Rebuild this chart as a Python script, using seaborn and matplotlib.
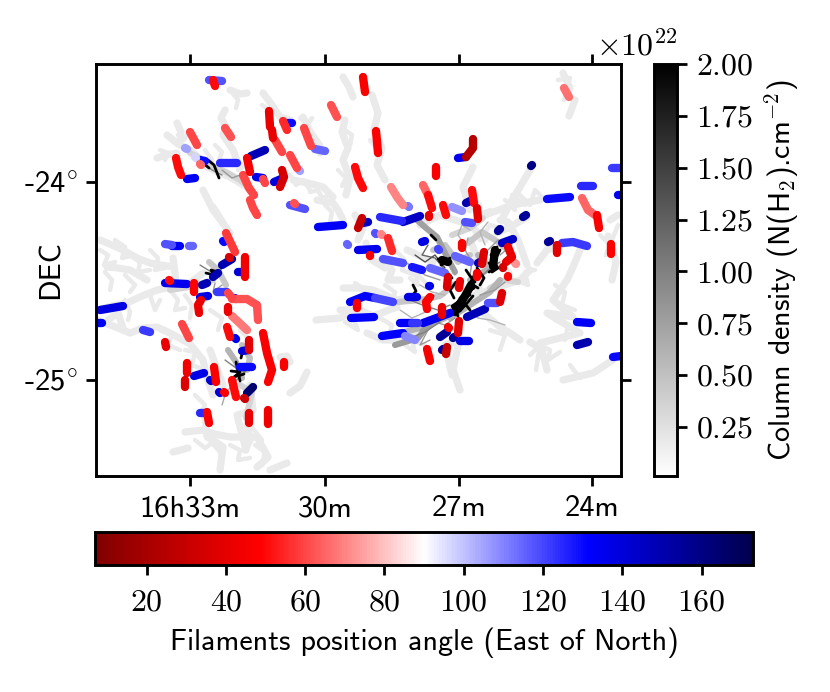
import pandas as pd
import seaborn as sns
import matplotlib.pyplot as plt
from matplotlib.cm import ScalarMappable
from matplotlib.colors import Normalize
from matplotlib.ticker import MultipleLocator, ScalarFormatter

# positions are map pixels of the column density image
ra_tick_pos = [190, 325, 459, 592]
ra_tick_labels = ['16h33m', '30m', '27m', '24m']
dec_tick_pos = [182, 380]
dec_tick_labels = [r'-24$^{\circ}$', r'-25$^{\circ}$']

# diffuse cloud ridges
diffuse_x = [
  [167, 178, 190, 199, 207, 218, 230, 240, 247], [157, 166, 177], [177, 181, 180], [225, 221, 226, 223, 233, 236, 240],
  [230, 240, 247], [263, 272, 280, 290], [303, 311, 320, 320], [293, 308, 323, 333], [317, 333, 338, 343],
  [343, 349, 353], [345, 342, 348, 343, 350, 346], [372, 378, 374, 382, 377, 385], [203, 208, 213, 222, 230], [213, 223],
  [100, 112, 123, 137, 150, 173], [107, 118, 130, 147], [97, 112, 127, 142, 157, 172, 187, 203], [173, 176],
  [97, 113, 130, 143, 157, 170, 183, 190, 203, 207, 213], [108, 118, 123], [210, 223], [250, 253, 237, 246],
  [290, 300, 307], [280, 287, 290], [185, 203, 215, 230, 244, 257, 268, 262, 257], [205, 207, 216, 223, 220],
  [173, 188], [247, 250, 245], [270, 287],
  [343, 358, 373, 385, 397, 413], [340, 360, 373, 397], [367, 383, 397, 413, 433], [407, 433], [366, 372, 385],
  [497, 512, 527], [530, 520, 512, 503], [480, 493, 507, 522, 540], [473, 463, 470], [483, 500, 510, 520],
  [470, 495, 520, 530], [355, 363, 358], [381, 392, 388, 400], [580, 573, 567, 560, 553, 573, 547, 580, 540, 547],
  [537, 547, 567], [563, 580, 593, 613], [530, 543], [610, 618], [608, 616, 612], [563, 570], [575, 569], [458, 453, 460],
  [420, 440, 470, 485], [470, 476, 482, 478], [316, 340, 352], [500, 508, 518, 527], [452, 445, 459],
]
diffuse_y = [
  [135, 144, 150, 158, 167, 172, 177, 183, 187], [158, 155, 153], [123, 132, 140], [110, 118, 127, 135, 150, 158, 167],
  [90, 94, 93], [93, 105, 117, 120], [117, 133, 146, 153], [180, 183, 187, 197], [200, 203, 210, 220],
  [77, 87, 97], [120, 132, 148, 160, 178, 195], [95, 113, 130, 148, 165, 180], [190, 200, 210, 222, 233], [207, 223],
  [240, 245, 250, 258, 263, 267], [267, 268, 270, 280], [310, 306, 303, 296, 290, 287, 285, 273], [258, 282],
  [320, 326, 333, 328, 327, 333, 340, 344, 360, 378, 395], [320, 313, 328], [350, 385], [385, 410, 415, 450],
  [393, 386, 372], [357, 356, 362], [432, 430, 434, 437, 437, 437, 457, 463, 467], [417, 437, 442, 447, 470],
  [452, 448], [425, 440, 450], [470, 463],
  [288, 288, 290, 295, 300, 297], [310, 310, 316, 307], [333, 340, 340, 333, 323], [250, 262], [243, 260, 268],
  [233, 226, 217], [170, 187, 200, 217], [217, 212, 207, 203, 200], [167, 187, 210], [313, 327, 333, 340],
  [297, 288, 280, 270], [215, 228, 240], [260, 270, 280, 280], [250, 267, 280, 290, 300, 317, 313, 333, 343, 370],
  [263, 250, 243], [380, 376, 373, 360], [342, 350], [220, 215], [236, 262, 280], [73, 88], [100, 116], [345, 370, 390],
  [225, 215, 225, 240], [240, 255, 270, 290], [320, 318, 312], [220, 222, 240, 265], [375, 345, 340],
]

# side branches of the ridges, narrower
twig_x = [
  [160, 168, 165], [178, 184, 188], [205, 212, 210], [215, 222, 219], [238, 246, 250], [230, 238, 236], [262, 270, 268],
  [300, 308, 312], [290, 296, 303, 310], [310, 318, 322, 330], [325, 332, 330], [345, 352, 350], [370, 378, 382], [338, 346, 342],
  [100, 108, 104, 115], [115, 125, 122, 135], [130, 140, 138, 150], [150, 158, 155, 165], [105, 112, 110], [125, 135, 130],
  [125, 130, 128], [150, 155, 160], [170, 178, 175, 185], [185, 192, 190], [160, 172, 168, 180], [185, 195, 192, 205],
  [210, 222, 218], [240, 250, 245], [195, 205, 200], [195, 205, 212, 220], [230, 240, 238, 250], [255, 265, 262], [250, 262],
  [355, 365, 362, 375], [385, 395, 392, 405], [345, 358, 352], [380, 392, 388, 402], [405, 415, 412, 425], [395, 405, 402, 415],
  [410, 418, 415, 428], [500, 510, 508, 520], [515, 528, 525, 535], [480, 490, 500], [505, 515, 512, 525], [470, 480, 478, 490],
  [520, 530, 535, 545], [490, 505, 500], [555, 565, 562, 575], [555, 568, 565], [540, 550, 548, 560], [570, 580, 590],
  [530, 540, 536], [600, 610, 606, 618], [558, 570, 564],
]
twig_y = [
  [150, 153, 160], [135, 140, 133], [150, 160, 168], [145, 152, 160], [170, 165, 172], [90, 100, 108], [105, 110, 118],
  [118, 124, 118], [175, 185, 180, 190], [192, 190, 198, 195], [205, 212, 222], [130, 135, 145], [140, 150, 145], [170, 178, 186],
  [250, 255, 265, 262], [240, 247, 258, 255], [255, 262, 272, 270], [250, 258, 270, 268], [272, 280, 290], [275, 285, 292],
  [300, 312, 320], [295, 310, 300], [290, 300, 310, 308], [295, 305, 318], [330, 335, 345, 350], [350, 352, 365, 370],
  [310, 318, 330], [330, 340, 345], [395, 405, 415], [440, 448, 443, 452], [445, 450, 460, 458], [445, 452, 465], [425, 440],
  [283, 290, 298, 296], [285, 292, 305, 300], [322, 330, 315], [318, 325, 340, 335], [345, 352, 340, 345], [250, 260, 270, 275],
  [278, 285, 272, 285], [265, 272, 285, 280], [280, 285, 272, 270], [240, 225, 228], [200, 210, 195, 205], [195, 205, 215, 210],
  [195, 205, 190, 200], [330, 335, 350], [285, 292, 305, 310], [320, 325, 340], [345, 350, 360, 352], [365, 378, 372],
  [355, 345, 370], [235, 245, 255, 225], [80, 78, 100],
]

# denser gas around the clumps
dense_x = [
  [190, 200, 212, 226, 240, 250], [417, 426, 437, 447, 455], [398, 420, 440, 455], [404, 424, 445, 462], [450, 470, 490, 500],
  [468, 482, 495, 508], [433, 445, 458, 470], [452, 470, 483], [209, 218, 226], [228, 236, 242], [242, 250, 247],
  [240, 252, 246], [395, 418, 430], [170, 190, 213], [470, 490, 478], [490, 505, 518],
]
dense_y = [
  [153, 158, 166, 172, 180, 188], [220, 228, 237, 257, 272], [302, 300, 296, 284], [332, 327, 318, 300], [318, 305, 292, 280],
  [243, 232, 240, 250], [250, 245, 262, 255], [235, 228, 218], [262, 270, 285], [350, 362, 378], [345, 358, 370],
  [385, 392, 418], [345, 338, 323], [290, 287, 280], [280, 268, 255], [288, 280, 282],
]
dense_level = [0.35e22, 0.75e22, 0.45e22, 0.6e22, 0.6e22, 0.45e22, 0.45e22, 0.35e22, 0.45e22, 0.6e22, 0.5e22, 0.35e22, 0.8e22, 0.35e22, 0.6e22, 0.35e22]

# thin dark web around the clumps
web_x = [
  [440, 425, 415, 405], [445, 432, 420], [450, 438, 425, 410], [455, 445, 435, 420], [470, 478, 490, 505], [480, 495, 505],
  [478, 488, 500], [470, 472, 465, 468], [455, 450, 442, 438], [445, 435, 422, 428], [465, 458, 462, 470], [485, 480, 488],
  [430, 420, 428, 440], [410, 425, 440], [400, 412, 430], [415, 425, 435, 445], [488, 498, 512, 500],
  [205, 198, 212, 222], [222, 232, 240], [200, 208, 216, 222, 210], [215, 213, 222], [225, 236, 245, 250, 232], [235, 225, 222],
]
web_y = [
  [280, 275, 268, 262], [295, 292, 285], [305, 310, 306, 300], [318, 325, 322, 330], [310, 318, 320, 325], [295, 290, 282],
  [280, 270, 262], [275, 262, 250, 238], [275, 262, 250, 240], [270, 258, 255, 245], [245, 235, 225, 230], [245, 232, 222],
  [340, 345, 330, 320], [338, 332, 322], [310, 318, 310], [255, 262, 255, 268], [250, 240, 245, 255],
  [165, 160, 170, 175], [170, 178, 175], [265, 270, 275, 268, 280], [283, 292, 285], [360, 368, 372, 366, 385], [380, 395, 405],
]
web_level = [0.8e22, 0.6e22, 1.0e22, 0.8e22, 0.6e22, 0.8e22, 1.0e22, 0.8e22, 0.8e22, 1.2e22, 0.6e22, 0.6e22, 0.8e22, 1.0e22, 0.6e22, 1.4e22, 0.8e22,
             1.0e22, 0.8e22, 1.0e22, 0.8e22, 1.0e22, 0.7e22]

# saturated cores
core_x = [
  [473, 467, 470, 460, 465, 456, 452, 460, 467, 473], [497, 491, 496, 489, 494, 489], [500, 494, 498, 492],
  [438, 444, 441, 450], [446, 452], [413, 416, 412], [431, 436], [206, 214, 211, 218], [203, 209], [231, 240, 234, 244],
  [236, 240], [243, 241], [208, 214, 219], [458, 452, 461, 468, 474], [474, 470, 478], [477, 484, 480], [428, 433],
  [456, 450, 454], [466, 470, 475], [462, 470],
]
core_y = [
  [283, 289, 295, 298, 305, 308, 313, 311, 303, 296], [247, 255, 262, 263, 269, 272], [250, 262, 268, 272],
  [259, 262, 265, 258], [271, 278], [285, 291, 296], [235, 240], [273, 275, 270, 272], [163, 168], [371, 372, 377, 374],
  [362, 381], [350, 358], [160, 165, 178], [316, 306, 300, 292, 288], [276, 283, 288], [268, 278, 285], [304, 296],
  [282, 290, 298], [270, 276, 282], [300, 310],
]
blob_x = [[471, 465, 459, 455], [495, 493], [442, 448]]
blob_y = [[285, 296, 305, 312], [250, 266], [260, 262]]

# filaments: position angle and spine points
filament_angle = [
  118, 50, 60, 62, 42, 42, 55, 130, 60, 62, 60, 115, 148, 45, 135, 60, 140, 35, 60, 105,
  125, 130, 105, 97, 65, 50, 133, 60, 60, 118, 62, 133, 115, 118, 133, 115, 58, 130, 150, 35,
  47, 48, 50, 47, 67, 25, 135, 160, 70, 112, 65, 50, 42, 50, 108, 150, 50, 40, 118, 125,
  145, 30, 145, 118, 70, 55, 135, 47, 118, 137, 120, 130, 125, 65, 47, 48, 122, 133, 155, 155,
  145, 155, 40, 122, 47, 42, 72, 35, 50, 38, 38, 150, 115, 115, 128, 47, 38, 42, 137, 137,
  48, 42, 132, 120, 47, 132, 133, 123, 135, 148, 118, 47, 40, 155, 155, 137, 132, 110, 47, 155,
  30, 133, 150, 130, 135, 50, 138, 133, 122, 60, 42, 48, 148, 150, 137, 122, 140, 45, 42, 60,
  130, 62, 43, 68, 50, 135, 40, 140, 47, 47, 130, 45, 137, 47, 140, 37, 140, 47, 50, 165,
  32, 125, 47, 42, 44,
]
filament_x = [
  [209, 222], [213, 215], [190, 197], [225, 231], [269, 270], [272, 273], [283, 287], [285, 292], [275, 282], [331, 337],
  [304, 311], [315, 325], [251, 265], [247, 250], [256, 263], [263, 265], [274, 281], [282, 284, 280], [290, 297], [299, 300],
  [220, 237], [200, 205], [185, 187], [195, 196], [200, 201], [176, 178, 181], [187, 195], [243, 249, 254], [250, 253, 257], [290, 305],
  [294, 295], [318, 343], [347, 348], [165, 172], [172, 180], [189, 193], [226, 235], [223, 224], [222, 232], [229, 230],
  [363, 365], [376, 378], [355, 358, 363], [436, 436], [564, 569], [473, 473, 466], [458, 466], [531, 532], [391, 397, 403], [408, 409],
  [423, 428], [428, 432], [429, 429], [443, 446], [452, 462], [466, 470], [472, 474], [477, 478], [465, 472], [380, 402],
  [403, 420], [362, 358], [363, 368], [375, 376], [381, 382], [388, 392], [358, 377], [370, 370], [383, 403], [422, 425],
  [438, 439], [547, 570], [581, 593], [582, 588, 595], [597, 599], [611, 611], [612, 621], [618, 621], [523, 526], [498, 500],
  [502, 513], [548, 550], [557, 557], [562, 573, 587], [462, 462], [508, 512, 506], [515, 516], [503, 503], [508, 508], [502, 500],
  [484, 482], [478, 480], [455, 470], [430, 445], [412, 422], [477, 477], [448, 447], [460, 459], [429, 430], [408, 417],
  [430, 426, 427], [442, 442], [350, 365, 375], [375, 393], [357, 357], [351, 374], [400, 412], [412, 418], [423, 450], [467, 485],
  [488, 497], [448, 449], [459, 458], [440, 447], [453, 454], [460, 469], [382, 403], [405, 415], [427, 430], [442, 443],
  [447, 446], [577, 591], [577, 588], [613, 621], [165, 187], [169, 170], [100, 123], [96, 102], [143, 150], [182, 189],
  [165, 166], [194, 194], [202, 207], [213, 218], [200, 208], [217, 227], [238, 243], [245, 245], [201, 198, 199], [228, 232],
  [235, 236], [232, 247, 257, 258], [228, 228], [232, 247], [227, 230], [235, 236], [249, 249], [242, 249], [263, 267, 272, 268], [284, 284],
  [240, 252], [187, 187], [194, 204], [214, 216], [210, 211], [185, 185], [219, 220], [224, 225], [232, 236], [247, 253],
  [244, 245], [200, 205], [207, 209], [249, 249], [268, 268],
]
filament_y = [
  [80, 81], [80, 86], [132, 145], [128, 137], [111, 127], [130, 138], [121, 130], [123, 123], [140, 152], [105, 117],
  [128, 146], [149, 151], [156, 150], [158, 172], [177, 178], [179, 183], [182, 179], [170, 177, 187], [155, 168], [170, 171],
  [163, 163], [160, 161], [148, 149], [157, 158], [164, 165], [158, 167, 175], [179, 178], [175, 188, 195], [200, 208, 215], [205, 209],
  [203, 204], [227, 225], [244, 245], [244, 245], [246, 246], [246, 246], [233, 252], [241, 242], [265, 259], [257, 258],
  [77, 92], [131, 153], [167, 178, 188], [167, 176], [88, 97], [139, 148, 157], [158, 157], [166, 165], [187, 197, 205], [206, 207],
  [185, 195], [195, 208], [215, 217], [205, 215], [207, 211], [203, 201], [190, 203], [208, 219], [222, 223], [217, 221],
  [222, 216], [218, 228], [223, 222], [233, 234], [234, 235], [238, 251], [250, 249], [255, 256], [259, 263], [242, 241],
  [249, 250], [199, 197], [186, 186], [198, 210, 215], [215, 228], [244, 254], [168, 168], [195, 195], [217, 215], [231, 229],
  [243, 239], [242, 241], [245, 253], [243, 242, 246], [243, 248], [247, 257, 262], [263, 264], [267, 268], [276, 277], [293, 302],
  [252, 264], [263, 262], [256, 262], [268, 273], [267, 270], [273, 277], [277, 287], [281, 288], [286, 286], [297, 297],
  [297, 302, 309], [307, 315], [302, 296, 298], [298, 302], [303, 308], [318, 317], [323, 323], [323, 323], [323, 313], [317, 309],
  [303, 303], [327, 328], [321, 333], [337, 332], [338, 337], [341, 341], [336, 333], [336, 340], [349, 361], [350, 349],
  [347, 354], [322, 323], [345, 342], [357, 356], [283, 284], [280, 281], [310, 306], [323, 323], [330, 332], [324, 338],
  [342, 347], [283, 292], [285, 283], [277, 273], [297, 296], [292, 292], [272, 272], [257, 277], [300, 305, 313], [293, 298],
  [298, 299], [299, 299, 305, 320], [307, 312], [316, 330], [327, 337], [338, 339], [340, 350], [351, 350], [333, 353, 370, 382], [362, 367],
  [367, 367], [363, 373], [376, 373], [367, 382], [380, 381], [380, 387], [392, 393], [392, 393], [380, 397], [393, 387],
  [398, 399], [413, 413], [412, 423], [413, 423], [410, 424],
]


def long_table(xs, ys, levels):
  rows = []
  for i, (x_line, y_line) in enumerate(zip(xs, ys)):
    for x, y in zip(x_line, y_line):
      rows.append({'line': i, 'x': x, 'y': y, 'level': levels[i]})
  return pd.DataFrame(rows)


sns.set_style('ticks', rc={'axes.edgecolor': 'black', 'xtick.color': 'black', 'ytick.color': 'black', 'text.color': 'black', 'axes.labelcolor': 'black'})
plt.rcParams['font.family'] = 'cmss10'
plt.rcParams['font.size'] = 11
plt.rcParams['axes.labelsize'] = 10.8
plt.rcParams['mathtext.fontset'] = 'cm'
plt.rcParams['axes.formatter.use_mathtext'] = True
plt.rcParams['axes.unicode_minus'] = False
plt.rcParams['axes.linewidth'] = 1.05
plt.rcParams['xtick.major.width'] = 1.0
plt.rcParams['ytick.major.width'] = 1.0

fig = plt.figure(figsize=(4.15, 3.46), dpi=200)
ax = fig.add_axes([0.1157, 0.3121, 0.6325, 0.5954])
cax_gray = fig.add_axes([0.788, 0.3121, 0.0277, 0.5954])
cax_angle = fig.add_axes([0.1145, 0.1835, 0.7928, 0.0477])

gray_norm = Normalize(vmin=1.4e20, vmax=2e22)
angle_norm = Normalize(vmin=7, vmax=173)
angle_cmap = plt.get_cmap('seismic_r')

layers = [
  (long_table(diffuse_x, diffuse_y, [0.18e22] * len(diffuse_x)), 2.6),
  (long_table(twig_x, twig_y, [0.18e22] * len(twig_x)), 1.6),
  (long_table(dense_x, dense_y, dense_level), 2.2),
  (long_table(web_x, web_y, web_level), 0.5),
  (long_table(core_x, core_y, [2e22] * len(core_x)), 1.0),
  (long_table(blob_x, blob_y, [2e22] * len(blob_x)), 3.0),
]
for table, width in layers:
  sns.lineplot(data=table, x='x', y='y', hue='level', units='line', estimator=None, sort=False,
               palette='binary', hue_norm=gray_norm, lw=width, legend=False, ax=ax)

# blue first so the red spines end up on top
fil_table = long_table(filament_x, filament_y, filament_angle)
angle_levels = sorted(set(filament_angle), reverse=True)
angle_colors = {a: angle_cmap(angle_norm(a)) for a in angle_levels}
sns.lineplot(data=fil_table, x='x', y='y', hue='level', units='line', estimator=None, sort=False,
             palette=angle_colors, hue_order=angle_levels, lw=3.0, solid_capstyle='round', legend=False, ax=ax)

ax.set_xlim(96, 621)
ax.set_ylim(476, 64)
ax.set_xticks(ra_tick_pos)
ax.set_xticklabels(ra_tick_labels)
ax.set_yticks(dec_tick_pos)
ax.set_yticklabels(dec_tick_labels)
ax.tick_params(top=True, right=True)
ax.tick_params(axis='x', pad=3.5)
ax.tick_params(axis='y', pad=3)
ax.set_xlabel('')
ax.set_ylabel('DEC')
ax.yaxis.set_label_coords(-0.059, 0.5)

gray_bar = fig.colorbar(ScalarMappable(norm=gray_norm, cmap='binary'), cax=cax_gray)
gray_bar.ax.yaxis.set_major_locator(MultipleLocator(0.25e22))
gray_bar.ax.yaxis.set_major_formatter(ScalarFormatter(useMathText=True))
gray_bar.set_label(r'Column density (N(H$_2$).cm$^{-2}$)', labelpad=3)
gray_bar.ax.tick_params(labelsize=11.5)
for label in gray_bar.ax.get_yticklabels():
  label.set_family('cmr10')
offset = gray_bar.ax.yaxis.get_offset_text()
offset.set_family('cmr10')
offset.set_size(11.5)

angle_bar = fig.colorbar(ScalarMappable(norm=angle_norm, cmap=angle_cmap), cax=cax_angle, orientation='horizontal')
angle_bar.set_ticks([20, 40, 60, 80, 100, 120, 140, 160])
angle_bar.ax.tick_params(labelsize=11.5, pad=5)
angle_bar.set_label('Filaments position angle (East of North)', labelpad=4)
for label in angle_bar.ax.get_xticklabels():
  label.set_family('cmr10')

fig.savefig('out.png', dpi=200)
